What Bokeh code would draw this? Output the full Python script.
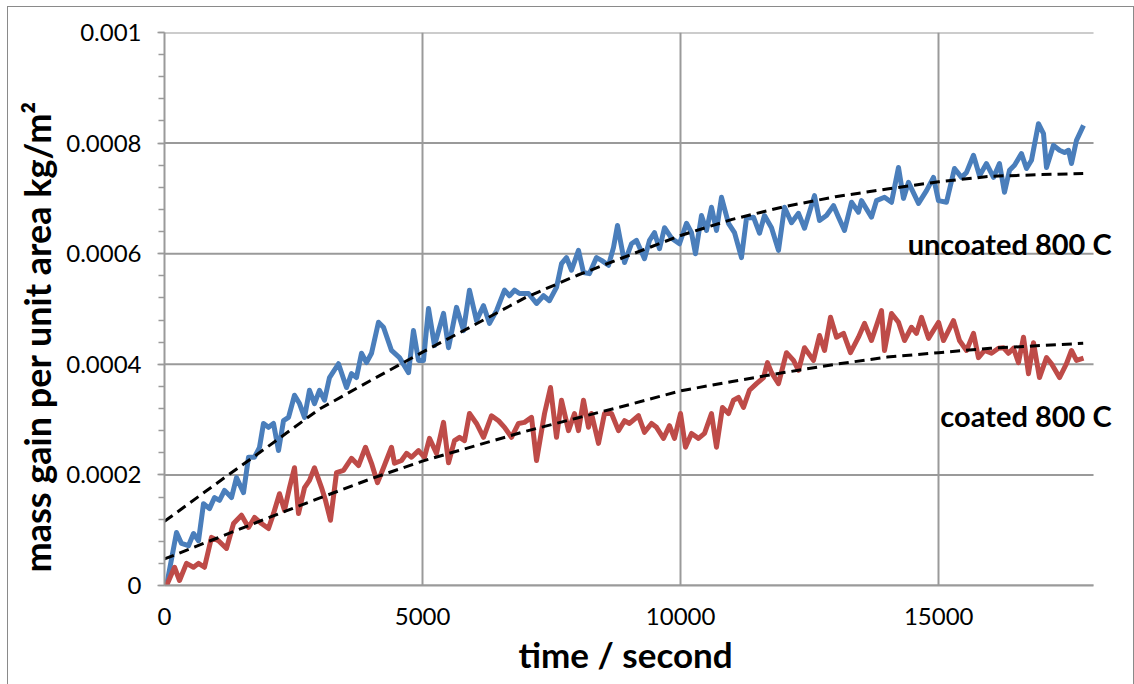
from bokeh.plotting import figure
from bokeh.models import FixedTicker, Label, Title
from bokeh.embed import file_html
from bokeh.resources import INLINE

# ---- data ----
uncoated_t = [40, 233, 329, 465, 562, 659, 756, 872, 969, 1066,
              1163, 1298, 1395, 1531, 1628, 1744, 1841, 1918, 2015, 2112,
              2209, 2306, 2403, 2519, 2616, 2713, 2809, 2906, 3003, 3100,
              3197, 3371, 3526, 3623, 3720, 3817, 3914, 4011, 4146, 4243,
              4398, 4553, 4728, 4824, 4921, 5018, 5115, 5231, 5406, 5503,
              5658, 5793, 5909, 6045, 6181, 6297, 6433, 6588, 6684, 6781,
              6878, 7053, 7208, 7343, 7459, 7595, 7692, 7789, 7886, 8021,
              8118, 8234, 8370, 8467, 8603, 8699, 8777, 8913, 9048, 9145,
              9300, 9397, 9494, 9591, 9688, 9823, 9978, 10114, 10211, 10288,
              10404, 10501, 10598, 10695, 10792, 10927, 11044, 11179, 11276, 11412,
              11528, 11625, 11761, 11896, 12013, 12148, 12284, 12400, 12594, 12691,
              12826, 12962, 13059, 13175, 13311, 13446, 13504, 13698, 13795, 13950,
              14086, 14221, 14318, 14415, 14609, 14764, 14899, 14996, 15151, 15306,
              15442, 15539, 15674, 15791, 15926, 16062, 16178, 16275, 16372, 16469,
              16604, 16701, 16798, 16933, 17031, 17089, 17224, 17341, 17438, 17515,
              17573, 17670, 17806]
uncoated_v = [0.0, 0.000096, 0.000076, 0.000072, 0.000094, 0.000081, 0.000148, 0.000139, 0.000159, 0.000154,
              0.000172, 0.000159, 0.000195, 0.000168, 0.000232, 0.000232, 0.000250, 0.000293, 0.000286, 0.000293,
              0.000244, 0.000298, 0.000304, 0.000344, 0.000329, 0.000304, 0.000353, 0.000329, 0.000353, 0.000335,
              0.000376, 0.000401, 0.000358, 0.000383, 0.000376, 0.000420, 0.000403, 0.000420, 0.000476, 0.000467,
              0.000425, 0.000412, 0.000385, 0.000461, 0.000407, 0.000407, 0.000501, 0.000434, 0.000492, 0.000430,
              0.000503, 0.000461, 0.000534, 0.000479, 0.000506, 0.000474, 0.000497, 0.000534, 0.000524, 0.000534,
              0.000528, 0.000528, 0.000510, 0.000524, 0.000515, 0.000539, 0.000582, 0.000593, 0.000570, 0.000606,
              0.000566, 0.000564, 0.000593, 0.000588, 0.000579, 0.000611, 0.000651, 0.000584, 0.000618, 0.000624,
              0.000591, 0.000624, 0.000638, 0.000609, 0.000647, 0.000628, 0.000618, 0.000655, 0.000638, 0.000600,
              0.000669, 0.000642, 0.000684, 0.000642, 0.000702, 0.000655, 0.000638, 0.000593, 0.000664, 0.000666,
              0.000637, 0.000669, 0.000647, 0.000606, 0.000684, 0.000656, 0.000673, 0.000646, 0.000705, 0.000660,
              0.000669, 0.000687, 0.000666, 0.000642, 0.000693, 0.000675, 0.000696, 0.000666, 0.000696, 0.000702,
              0.000693, 0.000756, 0.000700, 0.000729, 0.000691, 0.000714, 0.000738, 0.000696, 0.000693, 0.000754,
              0.000738, 0.000747, 0.000778, 0.000741, 0.000763, 0.000738, 0.000763, 0.000711, 0.000751, 0.000760,
              0.000781, 0.000754, 0.000769, 0.000835, 0.000817, 0.000756, 0.000796, 0.000787, 0.000783, 0.000787,
              0.000763, 0.000805, 0.000832]

coated_t = [40, 194, 291, 426, 562, 659, 775, 911, 1046, 1201,
            1337, 1492, 1628, 1744, 1879, 2015, 2112, 2228, 2325, 2422,
            2519, 2596, 2713, 2809, 2906, 3042, 3119, 3216, 3333, 3468,
            3623, 3759, 3894, 4011, 4127, 4243, 4398, 4456, 4592, 4689,
            4786, 4921, 5038, 5134, 5270, 5406, 5503, 5619, 5716, 5813,
            5909, 6045, 6181, 6336, 6472, 6588, 6723, 6859, 6975, 7111,
            7208, 7363, 7479, 7595, 7692, 7828, 7944, 8021, 8118, 8215,
            8273, 8409, 8525, 8661, 8796, 8913, 9009, 9184, 9300, 9436,
            9533, 9668, 9784, 9881, 9998, 10094, 10211, 10346, 10463, 10598,
            10695, 10811, 10927, 11024, 11121, 11218, 11334, 11470, 11606, 11683,
            11761, 11896, 12051, 12187, 12284, 12400, 12574, 12691, 12788, 12904,
            13020, 13156, 13291, 13446, 13563, 13698, 13892, 13950, 14086, 14221,
            14338, 14473, 14570, 14667, 14803, 14997, 15093, 15190, 15287, 15403,
            15539, 15674, 15771, 15888, 16023, 16159, 16256, 16353, 16449, 16546,
            16643, 16740, 16837, 16953, 17089, 17186, 17341, 17476, 17573, 17670,
            17806]
coated_v = [0.0, 0.000033, 0.000009, 0.000040, 0.000033, 0.000040, 0.000033, 0.000087, 0.000081, 0.000067,
            0.000112, 0.000127, 0.000105, 0.000123, 0.000112, 0.000103, 0.000130, 0.000166, 0.000136, 0.000177,
            0.000213, 0.000130, 0.000177, 0.000190, 0.000213, 0.000177, 0.000154, 0.000118, 0.000204, 0.000208,
            0.000230, 0.000217, 0.000250, 0.000221, 0.000186, 0.000213, 0.000250, 0.000221, 0.000226, 0.000239,
            0.000232, 0.000244, 0.000232, 0.000266, 0.000239, 0.000295, 0.000222, 0.000262, 0.000268, 0.000262,
            0.000311, 0.000293, 0.000268, 0.000307, 0.000298, 0.000286, 0.000268, 0.000293, 0.000295, 0.000304,
            0.000226, 0.000311, 0.000358, 0.000268, 0.000335, 0.000280, 0.000311, 0.000280, 0.000335, 0.000286,
            0.000311, 0.000257, 0.000311, 0.000311, 0.000280, 0.000298, 0.000293, 0.000307, 0.000277, 0.000293,
            0.000286, 0.000266, 0.000289, 0.000266, 0.000311, 0.000250, 0.000275, 0.000266, 0.000275, 0.000311,
            0.000250, 0.000322, 0.000311, 0.000335, 0.000340, 0.000322, 0.000353, 0.000365, 0.000376, 0.000403,
            0.000385, 0.000365, 0.000421, 0.000407, 0.000389, 0.000430, 0.000407, 0.000452, 0.000425, 0.000485,
            0.000449, 0.000456, 0.000421, 0.000449, 0.000474, 0.000443, 0.000497, 0.000425, 0.000492, 0.000476,
            0.000443, 0.000467, 0.000456, 0.000485, 0.000447, 0.000476, 0.000443, 0.000461, 0.000479, 0.000443,
            0.000425, 0.000456, 0.000412, 0.000425, 0.000420, 0.000429, 0.000430, 0.000420, 0.000429, 0.000403,
            0.000449, 0.000383, 0.000439, 0.000376, 0.000412, 0.000401, 0.000376, 0.000401, 0.000425, 0.000407,
            0.000411]

trend_t = [0, 1000, 2000, 3000, 4000, 5000, 6000, 7000, 8000, 9000,
           10000, 11000, 12000, 13000, 14000, 15000, 16000, 17000, 17800]
uncoated_trend = [0.000116, 0.000184, 0.000251, 0.000319, 0.000371, 0.000422, 0.000471, 0.000521, 0.000561, 0.000597,
                  0.000633, 0.000662, 0.000685, 0.000703, 0.000717, 0.000730, 0.000740, 0.000743, 0.000745]
coated_trend = [0.000048, 0.000085, 0.000122, 0.000158, 0.000193, 0.000225, 0.000252, 0.000279, 0.000303, 0.000327,
                0.000352, 0.000369, 0.000385, 0.000400, 0.000413, 0.000421, 0.000429, 0.000434, 0.000438]

y_ticks = [0, 0.0002, 0.0004, 0.0006, 0.0008, 0.001]
y_tick_labels = ["0", "0.0002", "0.0004", "0.0006", "0.0008", "0.001"]
x_ticks = [0, 5000, 10000, 15000]
x_tick_labels = ["0", "5000", "10000", "15000"]
x_max = 18000
series_labels = ["uncoated 800 C", "coated 800 C"]
x_title = "time / second"
y_title = "mass gain per unit area kg/m²"

GRID = "#9a9a9a"
FONT = "Lato"

p = figure(frame_width=949, frame_height=553,
           min_border_left=155, min_border_right=20, min_border_top=25, min_border_bottom=99,
           x_range=(0, 18387), y_range=(0, 0.001),
           output_backend="svg", toolbar_location=None,
           background_fill_color="white", border_fill_color="white")
p.outline_line_color = None
p.margin = (6, 0, 0, 7)
p.styles = {"border-top": "1px solid #8a8a8a", "border-left": "1px solid #8a8a8a",
            "border-right": "1px solid #8a8a8a"}

# horizontal grid lines stop at the end of the x axis
p.ygrid.grid_line_color = None
p.segment(x0=[0] * len(y_ticks), x1=[x_max] * len(y_ticks), y0=y_ticks, y1=y_ticks,
          line_color=GRID, line_width=2)
p.xgrid.grid_line_color = GRID
p.xgrid.grid_line_width = 2

p.line(uncoated_t, uncoated_v, line_color="#4a7ebb", line_width=5, line_join="round")
p.line(coated_t, coated_v, line_color="#be4b48", line_width=5, line_join="round")
p.line(trend_t, uncoated_trend, line_color="black", line_width=3, line_dash="10 6")
p.line(trend_t, coated_trend, line_color="black", line_width=3, line_dash="10 6")

minor = [i * 0.00004 for i in range(26)]
p.yaxis.ticker = FixedTicker(ticks=y_ticks, minor_ticks=minor)
p.yaxis.major_label_overrides = dict(zip(y_ticks, y_tick_labels))
p.xaxis.ticker = FixedTicker(ticks=x_ticks)
p.xaxis.major_label_overrides = dict(zip(x_ticks, x_tick_labels))
p.xaxis.bounds = (0, x_max)

for ax in (p.xaxis[0], p.yaxis[0]):
    ax.axis_line_color = GRID
    ax.axis_line_width = 2
    ax.major_tick_line_color = GRID
    ax.minor_tick_line_color = GRID
    ax.major_tick_line_width = 1.5
    ax.minor_tick_line_width = 1.5
    ax.major_label_text_font = FONT
    ax.major_label_text_font_size = "24px"
    ax.major_label_text_color = "black"

p.yaxis.major_tick_in = 0
p.yaxis.major_tick_out = 7
p.yaxis.minor_tick_in = 0
p.yaxis.minor_tick_out = 6
p.yaxis.major_label_standoff = 16

p.xaxis.major_tick_in = 0
p.xaxis.major_tick_out = 0
p.xaxis.minor_tick_line_color = None
p.xaxis.major_label_standoff = 22

# axis titles placed as side titles so they can be positioned like the reference
p.add_layout(Title(text=x_title, align="left", offset=354, standoff=7,
                   text_font=FONT, text_font_style="bold", text_font_size="35px",
                   text_color="black"), "below")
p.add_layout(Title(text=y_title, align="left", offset=13, standoff=9,
                   text_font=FONT, text_font_style="bold", text_font_size="36px",
                   text_color="black"), "left")

p.add_layout(Label(x=18350, y=0.000618, text=series_labels[0], text_align="right",
                   text_baseline="middle", text_font=FONT, text_font_style="bold",
                   text_font_size="29px", text_color="black"))
p.add_layout(Label(x=18350, y=0.000307, text=series_labels[1], text_align="right",
                   text_baseline="middle", text_font=FONT, text_font_style="bold",
                   text_font_size="29px", text_color="black"))

open("out.html", "w").write(file_html(p, INLINE))
